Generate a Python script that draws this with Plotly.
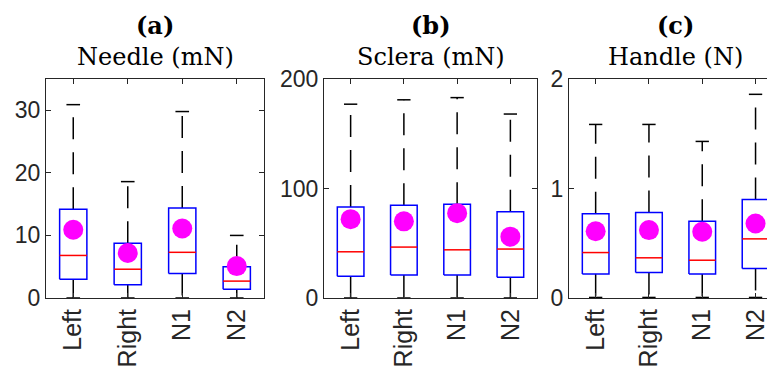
import plotly.graph_objects as go

categories = ["Left", "Right", "N1", "N2"]
positions = [1, 2, 3, 4]

# Panel (a) Needle (mN)
needle_lower = [0.0, 0.0, 0.0, 0.0]
needle_q1 = [3.0, 2.1, 3.9, 1.4]
needle_median = [6.8, 4.6, 7.3, 2.7]
needle_q3 = [14.2, 8.75, 14.4, 5.0]
needle_upper = [30.9, 18.6, 29.8, 10.0]
needle_mean = [10.9, 7.2, 11.1, 5.1]

# Panel (b) Sclera (mN)
sclera_lower = [0.0, 0.0, 0.0, 0.0]
sclera_q1 = [19.8, 21.0, 21.0, 19.0]
sclera_median = [42.2, 46.5, 44.0, 44.7]
sclera_q3 = [83.0, 84.8, 85.7, 78.7]
sclera_upper = [177.0, 181.0, 183.0, 168.0]
sclera_mean = [72.0, 70.0, 77.5, 56.0]

# Panel (c) Handle (N)
handle_lower = [0.005, 0.005, 0.005, 0.005]
handle_q1 = [0.22, 0.233, 0.22, 0.27]
handle_median = [0.415, 0.367, 0.345, 0.54]
handle_q3 = [0.77, 0.78, 0.70, 0.90]
handle_upper = [1.585, 1.585, 1.43, 1.86]
handle_mean = [0.61, 0.62, 0.605, 0.68]

panels = [
    dict(letter="(a)", name="Needle (mN)", lower=needle_lower, q1=needle_q1, med=needle_median,
         q3=needle_q3, upper=needle_upper, mean=needle_mean, yrange=[0, 35], ytick=[0, 10, 20, 30]),
    dict(letter="(b)", name="Sclera (mN)", lower=sclera_lower, q1=sclera_q1, med=sclera_median,
         q3=sclera_q3, upper=sclera_upper, mean=sclera_mean, yrange=[0, 200], ytick=[0, 100, 200]),
    dict(letter="(c)", name="Handle (N)", lower=handle_lower, q1=handle_q1, med=handle_median,
         q3=handle_q3, upper=handle_upper, mean=handle_mean, yrange=[0, 2], ytick=[0, 1, 2]),
]

# page body has an 8px margin; lay out in window pixels and shift
OFF = 8
WIN_W, WIN_H = 775, 373
W, H = WIN_W - OFF, WIN_H - OFF


def px_x(xw):
    return (xw - OFF) / W


def px_y(yw):
    return 1 - (yw - OFF) / H


x_domains = [[px_x(46), px_x(264)], [px_x(324), px_x(537)], [px_x(569), 1.0]]
x_ranges = [[0.5, 4.5], [0.5, 4.5], [0.5, 0.5 + (WIN_W - 569) / 53.3]]
title_centers = [(46 + 264) / 2, (324 + 537) / 2, 569 + 2 * 53.3]
y_domain = [px_y(298), px_y(79)]

BW = 0.25   # half box width
CW = 0.125  # half cap width
AX = "#262626"

fig = go.Figure()

for i, p in enumerate(panels):
    xa = "x" if i == 0 else f"x{i+1}"
    ya = "y" if i == 0 else f"y{i+1}"
    # whiskers (dashed)
    wx, wy = [], []
    for pos, lo, q1, q3, up in zip(positions, p["lower"], p["q1"], p["q3"], p["upper"]):
        wx += [pos, pos, None, pos, pos, None]
        wy += [q3, up, None, q1, lo, None]
    fig.add_trace(go.Scatter(x=wx, y=wy, mode="lines", xaxis=xa, yaxis=ya,
                             line=dict(color="black", width=1.5, dash="22px,13px"),
                             hoverinfo="skip", showlegend=False))
    # caps
    cx, cy = [], []
    for pos, lo, up in zip(positions, p["lower"], p["upper"]):
        cx += [pos - CW, pos + CW, None, pos - CW, pos + CW, None]
        cy += [up, up, None, lo, lo, None]
    fig.add_trace(go.Scatter(x=cx, y=cy, mode="lines", xaxis=xa, yaxis=ya,
                             line=dict(color="black", width=1.5),
                             hoverinfo="skip", showlegend=False))
    # boxes
    bx, by = [], []
    for pos, q1, q3 in zip(positions, p["q1"], p["q3"]):
        bx += [pos - BW, pos + BW, pos + BW, pos - BW, pos - BW, None]
        by += [q1, q1, q3, q3, q1, None]
    fig.add_trace(go.Scatter(x=bx, y=by, mode="lines", xaxis=xa, yaxis=ya,
                             line=dict(color="#0000FF", width=1.5),
                             hoverinfo="skip", showlegend=False))
    # medians
    mx, my = [], []
    for pos, m in zip(positions, p["med"]):
        mx += [pos - BW, pos + BW, None]
        my += [m, m, None]
    fig.add_trace(go.Scatter(x=mx, y=my, mode="lines", xaxis=xa, yaxis=ya,
                             line=dict(color="#FF0000", width=1.5),
                             hoverinfo="skip", showlegend=False))
    # means
    fig.add_trace(go.Scatter(x=positions, y=p["mean"], mode="markers", xaxis=xa, yaxis=ya,
                             marker=dict(color="#FF00FF", size=20, line=dict(width=0)),
                             hoverinfo="skip", showlegend=False))

    xkey = "xaxis" if i == 0 else f"xaxis{i+1}"
    ykey = "yaxis" if i == 0 else f"yaxis{i+1}"
    fig.update_layout(**{
        xkey: dict(domain=x_domains[i], range=x_ranges[i], anchor=ya,
                   tickvals=positions, ticktext=categories, tickangle=-90,
                   ticks="inside", ticklen=5, tickcolor=AX, tickwidth=1,
                   showline=True, linecolor=AX, linewidth=1, mirror="ticks",
                   showgrid=False, zeroline=False, automargin=False,
                   tickfont=dict(family="Liberation Sans, Arial, sans-serif", size=25, color=AX)),
        ykey: dict(domain=y_domain, range=p["yrange"], anchor=xa,
                   tickvals=p["ytick"], ticks="inside", ticklen=5, tickcolor=AX, tickwidth=1,
                   showline=True, linecolor=AX, linewidth=1,
                   mirror=("ticks" if i < 2 else False),
                   showgrid=False, zeroline=False, automargin=False,
                   tickfont=dict(family="Liberation Sans, Arial, sans-serif", size=23, color=AX)),
    })
    cxp = px_x(title_centers[i])
    fig.add_annotation(x=cxp, y=px_y(25), xref="paper", yref="paper", showarrow=False,
                       text=f"<b>{p['letter']}</b>", xanchor="center", yanchor="middle",
                       font=dict(family="DejaVu Serif, serif", size=24, color="black"))
    fig.add_annotation(x=cxp, y=px_y(57), xref="paper", yref="paper", showarrow=False,
                       text=p["name"], xanchor="center", yanchor="middle",
                       font=dict(family="DejaVu Serif, serif", size=24, color="black"))

fig.update_layout(width=W, height=H, margin=dict(l=0, r=0, t=0, b=0),
                  paper_bgcolor="white", plot_bgcolor="white", template="none",
                  showlegend=False)

fig.write_html("out.html")
